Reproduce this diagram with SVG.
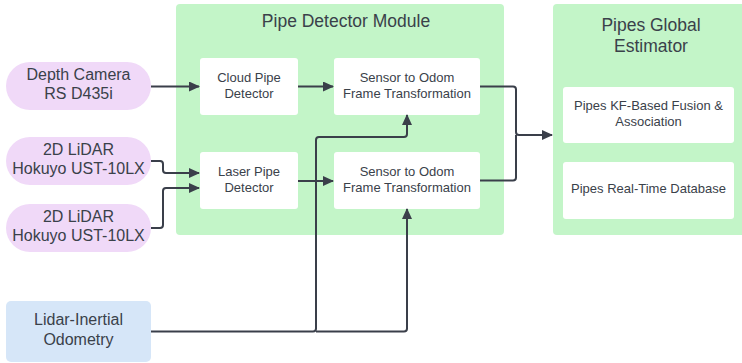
<svg xmlns="http://www.w3.org/2000/svg" width="742" height="363" viewBox="0 0 742 363">
<defs>
<style>
text{font-family:"Liberation Sans",Arial,sans-serif;fill:#3a414a;text-anchor:middle}
.grp{fill:#c3f5c8}
.box{fill:#ffffff}
.pill{fill:#f0d9f8}
.blue{fill:#d6e6f8}
.t17{font-size:17.5px}
.t16{font-size:16px}
.t13{font-size:13px}
.c{fill:none;stroke:#3a3f4a;stroke-width:2;stroke-linejoin:round}
</style>
<marker id="ah" markerWidth="12" markerHeight="10" refX="10" refY="5" orient="auto" markerUnits="userSpaceOnUse">
<path d="M0,0 L11,5 L0,10 Z" fill="#3a3f4a"/>
</marker>
</defs>
<rect width="742" height="363" fill="#ffffff"/>
<g id="pipe-detector-module">
<rect class="grp" x="176" y="4" width="328" height="231" rx="4"/>
<text class="t17" x="346" y="27">Pipe Detector Module</text>
</g>
<g id="pipes-global-estimator">
<rect class="grp" x="553" y="4" width="193" height="231" rx="4"/>
<text class="t17" x="651" y="31">Pipes Global</text>
<text class="t17" x="651" y="52">Estimator</text>
</g>
<g id="depth-camera">
<rect class="pill" x="6" y="62" width="145" height="48" rx="24"/>
<text class="t16" x="78.5" y="80">Depth Camera</text>
<text class="t16" x="78.5" y="99">RS D435i</text>
</g>
<g id="lidar-1">
<rect class="pill" x="6" y="137" width="145" height="48" rx="24"/>
<text class="t16" x="78.5" y="155">2D LiDAR</text>
<text class="t16" x="78.5" y="174">Hokuyo UST-10LX</text>
</g>
<g id="lidar-2">
<rect class="pill" x="6" y="204" width="145" height="48" rx="24"/>
<text class="t16" x="78.5" y="222">2D LiDAR</text>
<text class="t16" x="78.5" y="241">Hokuyo UST-10LX</text>
</g>
<g id="lidar-inertial-odometry">
<rect class="blue" x="6" y="301" width="145" height="61" rx="5"/>
<text class="t16" x="78.5" y="325">Lidar-Inertial</text>
<text class="t16" x="78.5" y="345">Odometry</text>
</g>
<g id="cloud-pipe-detector">
<rect class="box" x="200" y="58" width="98" height="57" rx="3"/>
<text class="t13" x="249" y="82">Cloud Pipe</text>
<text class="t13" x="249" y="98">Detector</text>
</g>
<g id="laser-pipe-detector">
<rect class="box" x="200" y="152" width="98" height="57" rx="3"/>
<text class="t13" x="249" y="176">Laser Pipe</text>
<text class="t13" x="249" y="192">Detector</text>
</g>
<g id="sensor-odom-1">
<rect class="box" x="334" y="58" width="146" height="57" rx="3"/>
<text class="t13" x="407" y="82">Sensor to Odom</text>
<text class="t13" x="407" y="98">Frame Transformation</text>
</g>
<g id="sensor-odom-2">
<rect class="box" x="334" y="152" width="146" height="57" rx="3"/>
<text class="t13" x="407" y="176">Sensor to Odom</text>
<text class="t13" x="407" y="192">Frame Transformation</text>
</g>
<g id="kf-fusion">
<rect class="box" x="563" y="87" width="171" height="56" rx="3"/>
<text class="t13" x="648.5" y="110">Pipes KF-Based Fusion &amp;</text>
<text class="t13" x="648.5" y="126">Association</text>
</g>
<g id="real-time-db">
<rect class="box" x="563" y="162" width="171" height="57" rx="3"/>
<text class="t13" x="648.5" y="193">Pipes Real-Time Database</text>
</g>
<g id="connectors">
<path class="c" d="M151,86.5 H199" marker-end="url(#ah)"/>
<path class="c" d="M298,86.5 H333" marker-end="url(#ah)"/>
<path class="c" d="M151,161 H160 Q163,161 163,164 V170 Q163,173 166,173 H199" marker-end="url(#ah)"/>
<path class="c" d="M151,228 H160 Q163,228 163,225 V191 Q163,188 166,188 H199" marker-end="url(#ah)"/>
<path class="c" d="M298,181 H333" marker-end="url(#ah)"/>
<path class="c" d="M480,86.5 H513 Q516,86.5 516,89.5 V132 Q516,135 519,135 H552" marker-end="url(#ah)"/>
<path class="c" d="M480,180.5 H513 Q516,180.5 516,177.5 V135"/>
<path class="c" d="M151,331.5 H313 Q316,331.5 316,328.5 V140 Q316,137 319,137 H404 Q407,137 407,134 V115" marker-end="url(#ah)"/>
<path class="c" d="M316,331.5 H404 Q407,331.5 407,328.5 V209" marker-end="url(#ah)"/>
</g>
</svg>
